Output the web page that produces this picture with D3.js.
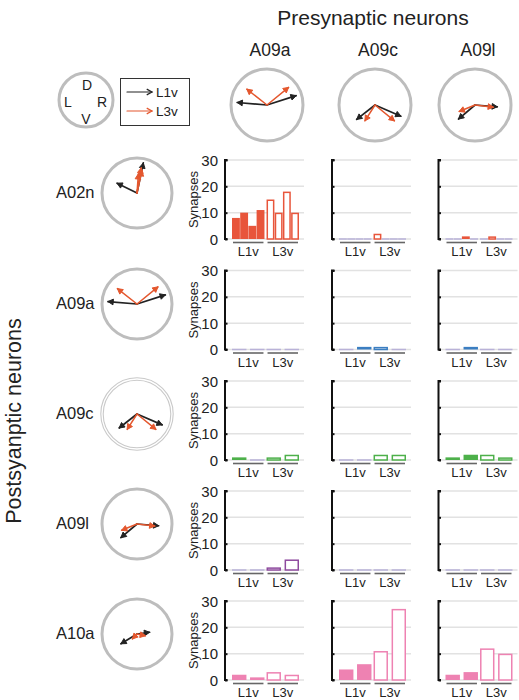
<!DOCTYPE html>
<html>
<head>
<meta charset="utf-8">
<script src="https://cdn.jsdelivr.net/npm/d3@7"></script>
<style>
  body { margin: 0; background: #fff; }
  svg { display: block; font-family: "Liberation Sans", Arial, Helvetica, sans-serif; }
</style>
</head>
<body>
<svg id="chart" width="519" height="700"></svg>
<script>
// ---------------- DATA ----------------
const preNeurons = ["A09a", "A09c", "A09l"];
const postNeurons = ["A02n", "A09a", "A09c", "A09l", "A10a"];
const groups = ["L1v", "L3v"];
const yTicks = [0, 10, 20, 30];
const rowColors = ["#E8553B", "#3B7EC1", "#4DB04A", "#8E4A9E", "#EE82B2"];

// synapse counts: [presynaptic column][group L1v/L3v][bar]
const countsA02n = [[[8, 10, 5, 11], [15, 10, 18, 10]], [[0, 0, 0, 0], [2, 0, 0, 0]], [[0, 0, 1, 0], [0, 1, 0, 0]]];
const countsA09a = [[[0, 0], [0, 0]], [[0, 1], [1, 0]], [[0, 1], [0, 0]]];
const countsA09c = [[[1, 0], [1, 2]], [[0, 0], [2, 2]], [[1, 2], [2, 1]]];
const countsA09l = [[[0, 0], [1, 4]], [[0, 0], [0, 0]], [[0, 0], [0, 0]]];
const countsA10a = [[[2, 1], [3, 2]], [[4, 6], [11, 27]], [[2, 3], [12, 10]]];
const allCounts = [countsA02n, countsA09a, countsA09c, countsA09l, countsA10a];

// arrow vectors (fraction of circle radius; x right, y up) per neuron
const arrowNeurons = ["A02n", "A09a", "A09c", "A09l", "A10a"];
const vectorsL1v = [
  [[-0.57, 0.28], [0.18, 0.86]],
  [[-0.83, 0.07], [0.81, 0.26]],
  [[-0.51, -0.40], [0.72, -0.31]],
  [[-0.46, -0.39], [0.62, -0.05]],
  [[-0.46, -0.28], [0.36, 0.05]]
];
const vectorsL3v = [
  [[0.12, 0.72], [0.04, 0.55], [0.14, 0.64]],
  [[-0.56, 0.44], [0.60, 0.49]],
  [[-0.28, -0.44], [0.54, -0.44]],
  [[-0.44, -0.18], [0.51, -0.06]],
  [[-0.13, -0.14], [0.24, -0.05]]
];

// ---------------- DRAW ----------------
const svg = d3.select("#chart");
const BLACK = "#222222", RED = "#E4572E", RING = "#BDBDBD";

function arrow(g, x1, y1, x2, y2, color, w, head, open) {
  const a = Math.atan2(y2 - y1, x2 - x1);
  const sp = 0.5;
  const p1 = [x2 - head * Math.cos(a - sp), y2 - head * Math.sin(a - sp)];
  const p2 = [x2 - head * Math.cos(a + sp), y2 - head * Math.sin(a + sp)];
  g.append("line").attr("x1", x1).attr("y1", y1).attr("x2", x2).attr("y2", y2)
    .attr("stroke", color).attr("stroke-width", w).attr("stroke-linecap", "round");
  if (open) {
    g.append("path").attr("d", d3.line()([p1, [x2, y2], p2]))
      .attr("fill", "none").attr("stroke", color).attr("stroke-width", w);
  } else {
    g.append("path").attr("d", d3.line()([p1, [x2, y2], p2]) + "Z")
      .attr("fill", color).attr("stroke", color).attr("stroke-width", 1).attr("stroke-linejoin", "round");
  }
}

function compass(cx, cy, r, idx, doubleRing) {
  const g = svg.append("g");
  if (doubleRing) {
    g.append("circle").attr("cx", cx).attr("cy", cy).attr("r", r + 1.2).attr("fill", "none").attr("stroke", "#C9C9C9").attr("stroke-width", 1.1);
    g.append("circle").attr("cx", cx).attr("cy", cy).attr("r", r - 1.2).attr("fill", "none").attr("stroke", "#C9C9C9").attr("stroke-width", 1.1);
  } else {
    g.append("circle").attr("cx", cx).attr("cy", cy).attr("r", r).attr("fill", "none").attr("stroke", RING).attr("stroke-width", 3);
  }
  const sx = d3.scaleLinear().domain([-1, 1]).range([cx - r, cx + r]);
  const sy = d3.scaleLinear().domain([-1, 1]).range([cy + r, cy - r]);
  vectorsL1v[idx].forEach(v => arrow(g, cx, cy, sx(v[0]), sy(v[1]), BLACK, 1.7, 6, false));
  vectorsL3v[idx].forEach(v => arrow(g, cx, cy, sx(v[0]), sy(v[1]), RED, 1.5, 6, false));
}

// Titles
svg.append("text").attr("x", 373).attr("y", 25).attr("text-anchor", "middle")
  .attr("font-size", 21).attr("fill", "#222").text("Presynaptic neurons");
svg.append("text").attr("transform", "translate(21,421) rotate(-90)").attr("text-anchor", "middle")
  .attr("font-size", 21.5).attr("fill", "#222").text("Postsyanptic neurons");

// Legend compass
const lg = svg.append("g");
lg.append("circle").attr("cx", 86).attr("cy", 100).attr("r", 27).attr("fill", "none").attr("stroke", RING).attr("stroke-width", 3);
[["D", 87, 85], ["L", 68, 102], ["R", 102, 102], ["V", 86, 119]].forEach(d => {
  lg.append("text").attr("x", d[1]).attr("y", d[2]).attr("text-anchor", "middle").attr("dominant-baseline", "central")
    .attr("font-size", 14).attr("fill", "#222").text(d[0]);
});
// Legend box
lg.append("rect").attr("x", 120.5).attr("y", 78.5).attr("width", 69).attr("height", 47)
  .attr("fill", "none").attr("stroke", "#333").attr("stroke-width", 1);
arrow(lg, 127, 92, 152, 92, BLACK, 1.2, 6, true);
arrow(lg, 127, 111, 152, 111, RED, 1.2, 6, true);
lg.append("text").attr("x", 156).attr("y", 92).attr("dominant-baseline", "central").attr("font-size", 13.5).attr("fill", "#222").text(groups[0]);
lg.append("text").attr("x", 156).attr("y", 111).attr("dominant-baseline", "central").attr("font-size", 13.5).attr("fill", "#222").text(groups[1]);

// Column headers and top compasses
const colAxisX = [225, 332, 438.5];
const topCx = [267, 375, 475];
preNeurons.forEach((n, i) => {
  svg.append("text").attr("x", topCx[i] + 3).attr("y", 50).attr("text-anchor", "middle").attr("dominant-baseline", "central")
    .attr("font-size", 17.5).attr("fill", "#222").text(n);
  compass(topCx[i], 105, 36, arrowNeurons.indexOf(n), false);
});

// Rows
const rowBase = [239, 349.5, 460, 570, 680];
const rowCy = [193, 304, 414, 524, 634];
postNeurons.forEach((n, ri) => {
  svg.append("text").attr("x", 56).attr("y", rowCy[ri] - 1).attr("dominant-baseline", "central")
    .attr("font-size", 16.5).attr("fill", "#222").text(n);
  compass(137, rowCy[ri], 35, ri, n === "A09c");

  const y = d3.scaleLinear().domain([0, 30]).range([rowBase[ri], rowBase[ri] - 79]);
  const color = rowColors[ri];

  preNeurons.forEach((pn, ci) => {
    const ax = colAxisX[ci];
    const g = svg.append("g");
    // gridlines
    g.selectAll("line.grid").data(yTicks).join("line")
      .attr("x1", ax).attr("x2", ax + 79).attr("y1", d => y(d)).attr("y2", d => y(d))
      .attr("stroke", "#E2E2E2").attr("stroke-width", 1.5);
    // axis
    const axis = d3.axisRight(y).tickValues(yTicks).tickSize(2.5).tickFormat("");
    const ag = g.append("g").attr("transform", `translate(${ax},0)`).call(axis);
    ag.select(".domain").attr("stroke", "#111").attr("stroke-width", 2).attr("d", `M2.5,${y(30)}H0V${y(0)}H2.5`);
    ag.selectAll(".tick line").attr("stroke", "#111").attr("stroke-width", 2);
    if (ci === 0) {
      g.selectAll("text.tl").data(yTicks).join("text")
        .attr("x", ax - 7).attr("y", d => y(d)).attr("text-anchor", "end").attr("dominant-baseline", "central")
        .attr("font-size", 15).attr("fill", "#222").text(d => d);
      g.append("text").attr("transform", `translate(${ax - 32},${y(15)}) rotate(-90)`).attr("text-anchor", "middle")
        .attr("dominant-baseline", "central").attr("font-size", 13).attr("fill", "#222").text("Synapses");
    }
    const gx = d3.scaleBand().domain(groups).range([ax + 7, ax + 74]).paddingInner(0.06);
    allCounts[ri][ci].forEach((vals, gi) => {
      const gname = groups[gi];
      const bx = d3.scaleBand().domain(d3.range(vals.length)).range([gx(gname), gx(gname) + gx.bandwidth()])
        .paddingInner(vals.length > 2 ? 0.04 : 0.2);
      // group underline
      g.append("line").attr("x1", gx(gname) + 1).attr("x2", gx(gname) + gx.bandwidth() - 1)
        .attr("y1", y(0) + 3.5).attr("y2", y(0) + 3.5).attr("stroke", "#666").attr("stroke-width", 1.6);
      g.append("text").attr("x", gx(gname) + gx.bandwidth() / 2).attr("y", y(0) + 12.5)
        .attr("text-anchor", "middle").attr("dominant-baseline", "central").attr("font-size", 13).attr("fill", "#222").text(gname);
      vals.forEach((v, bi) => {
        const x0 = bx(bi), w = bx.bandwidth();
        if (v === 0) {
          g.append("line").attr("x1", x0).attr("x2", x0 + w).attr("y1", y(0)).attr("y2", y(0))
            .attr("stroke", "#B9B2D8").attr("stroke-width", 1.5);
        } else if (gi === 0) {
          g.append("rect").attr("x", x0).attr("y", y(v)).attr("width", w).attr("height", y(0) - y(v)).attr("fill", color);
        } else {
          g.append("rect").attr("x", x0 + 0.75).attr("y", y(v) + 0.75).attr("width", w - 1.5).attr("height", Math.max(0.5, y(0) - y(v) - 0.75))
            .attr("fill", "#fff").attr("stroke", color).attr("stroke-width", 1.5);
        }
      });
    });
  });
});
</script>
</body>
</html>
